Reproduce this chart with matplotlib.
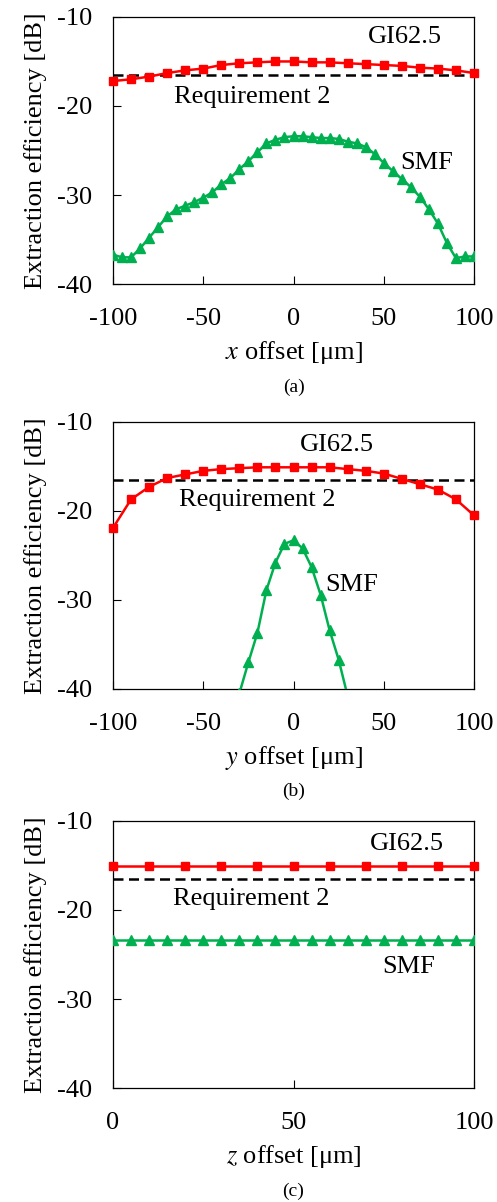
import matplotlib
matplotlib.use('Agg')
import matplotlib.pyplot as plt
import numpy as np

plt.rcParams['font.family'] = ['Liberation Serif', 'DejaVu Serif']
plt.rcParams['mathtext.fontset'] = 'stix'
plt.rcParams['axes.unicode_minus'] = False

# (a) x offset
x_gi = list(range(-100, 101, 10))
a_gi = [-17.2, -17.0, -16.7, -16.3, -16.0, -15.8, -15.4, -15.2, -15.1, -15.0, -15.0,
        -15.1, -15.1, -15.2, -15.3, -15.4, -15.5, -15.7, -15.8, -16.0, -16.3]
x_smf = list(range(-100, 101, 5))
a_smf = [-36.7, -37.0, -37.0, -36.0, -34.8, -33.6, -32.4, -31.6, -31.2, -30.8, -30.3,
         -29.7, -28.8, -28.1, -27.1, -26.2, -25.2, -24.2, -23.8, -23.5, -23.4,
         -23.4, -23.5, -23.6, -23.6, -23.7, -24.0, -24.2, -24.6, -25.4, -26.4,
         -27.3, -28.2, -29.1, -30.2, -31.6, -33.2, -35.4, -37.1, -36.9, -36.9]

# (b) y offset
y_gi = list(range(-100, 101, 10))
b_gi = [-21.9, -18.7, -17.3, -16.3, -15.9, -15.5, -15.3, -15.2, -15.1, -15.1, -15.1,
        -15.1, -15.1, -15.3, -15.5, -15.8, -16.4, -17.0, -17.6, -18.7, -20.5]
y_smf = list(range(-30, 31, 5))
b_smf = [-40.5, -37.0, -33.7, -28.9, -25.8, -23.7, -23.3, -24.2, -26.3, -29.4, -33.4, -36.7, -40.8]

# (c) z offset
z_gi = list(range(0, 101, 10))
c_gi = [-15.1] * 11
z_smf = list(range(0, 101, 5))
c_smf = [-23.4] * 21

requirement2 = -16.5

red = '#FF0000'
green = '#00B050'
fs = 19

fig = plt.figure(figsize=(4.97, 12.02), dpi=100)

panels = [
    (0.7637, x_gi, a_gi, x_smf, a_smf, (-100, 100), [-100, -50, 0, 50, 100], '$x$ offset [μm]', '(a)',
     (61.8, -12.3), (-23, -19.0), (73.8, -26.4)),
    (0.4268, y_gi, b_gi, y_smf, b_smf, (-100, 100), [-100, -50, 0, 50, 100], '$y$ offset [μm]', '(b)',
     (24.1, -12.6), (-20, -18.8), (32.2, -28.3)),
    (0.0948, z_gi, c_gi, z_smf, c_smf, (0, 100), [0, 50, 100], '$z$ offset [μm]', '(c)',
     (81.5, -12.6), (38.2, -18.8), (81.8, -26.4)),
]

for bottom, xg, yg, xs, ys, xlim, xticks, xlabel, tag, pos_gi, pos_req, pos_smf in panels:
    ax = fig.add_axes([0.2274, bottom, 0.7263, 0.2222])
    ax.plot(xs, ys, color=green, marker='^', markersize=6.5, linewidth=1.8, clip_on=True, zorder=3)
    ax.plot(xg, yg, color=red, marker='s', markersize=6, linewidth=1.8, clip_on=False, zorder=4)
    ax.axhline(requirement2, color='black', linestyle=(0, (4, 2.2)), linewidth=1.8, zorder=2)
    ax.set_xlim(*xlim)
    ax.set_ylim(-40, -10)
    ax.set_xticks(xticks)
    ax.set_yticks([-40, -30, -20, -10])
    ax.tick_params(direction='in', length=6, width=0.8, labelsize=fs, top=False, right=False)
    ax.tick_params(axis='x', pad=17)
    ax.tick_params(axis='y', pad=15)
    for s in ax.spines.values():
        s.set_linewidth(0.9)
    ax.set_ylabel('Extraction efficiency [dB]', fontsize=fs, labelpad=7)
    ax.set_xlabel(xlabel, fontsize=fs, labelpad=7)
    ax.text(pos_gi[0], pos_gi[1], 'GI62.5', fontsize=fs, ha='center', va='center')
    ax.text(pos_req[0], pos_req[1], 'Requirement 2', fontsize=fs, ha='center', va='center')
    ax.text(pos_smf[0], pos_smf[1], 'SMF', fontsize=fs, ha='center', va='center')
    ax.text(0.5, -0.385, tag, transform=ax.transAxes, fontsize=14, ha='center', va='center')

fig.savefig('out.png', dpi=100)
